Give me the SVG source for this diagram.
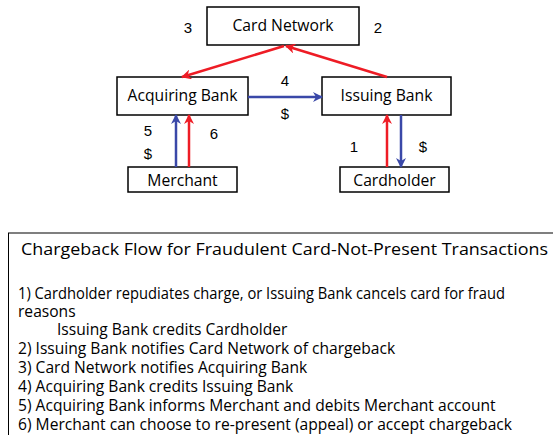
<svg xmlns="http://www.w3.org/2000/svg" width="553" height="435" viewBox="0 0 553 435">
<defs>
<marker id="ar" viewBox="0 0 10 10" refX="9" refY="5" markerWidth="4" markerHeight="4" orient="auto" markerUnits="strokeWidth"><path d="M0,0 L10,5 L0,10 L3,5 Z" fill="#ee1c25"/></marker>
<marker id="ab" viewBox="0 0 10 10" refX="9" refY="5" markerWidth="4" markerHeight="4" orient="auto" markerUnits="strokeWidth"><path d="M0,0 L10,5 L0,10 L3,5 Z" fill="#3a48a8"/></marker>
</defs>
<style>
.box{fill:#fff;stroke:#000;stroke-width:1.5}
.lbl{font-family:"Open Sans",sans-serif;font-size:15.7px;fill:#000;text-anchor:middle}
.num{font-family:"Liberation Sans",Arial,sans-serif;font-size:15px;fill:#000;text-anchor:middle}
.red{stroke:#ee1c25;stroke-width:2.5;fill:none;marker-end:url(#ar)}
.blue{stroke:#3a48a8;stroke-width:2.5;fill:none;marker-end:url(#ab)}
.txt{font-family:"Open Sans",sans-serif;font-size:15.6px;fill:#000}
</style>
<rect width="553" height="435" fill="#fff"/>
<g id="card-network"><rect class="box" x="207" y="7" width="152" height="38"/><text class="lbl" x="283" y="31">Card Network</text></g>
<g id="acquiring-bank"><rect class="box" x="117" y="77" width="131" height="38"/><text class="lbl" x="182.5" y="101">Acquiring Bank</text></g>
<g id="issuing-bank"><rect class="box" x="322" y="77" width="129" height="38"/><text class="lbl" x="386.5" y="101">Issuing Bank</text></g>
<g id="merchant"><rect class="box" x="128" y="167" width="109" height="25"/><text class="lbl" x="182.5" y="185.5">Merchant</text></g>
<g id="cardholder"><rect class="box" x="340" y="167" width="109" height="25"/><text class="lbl" x="394.5" y="185.5">Cardholder</text></g>
<g id="connectors">
<line class="red" x1="284" y1="46" x2="182" y2="77"/>
<line class="red" x1="387" y1="77" x2="286" y2="46"/>
<line class="blue" x1="248" y1="97" x2="322" y2="97"/>
<line class="blue" x1="176" y1="167" x2="176" y2="115"/>
<line class="red" x1="189" y1="167" x2="189" y2="115"/>
<line class="red" x1="387" y1="167" x2="387" y2="115"/>
<line class="blue" x1="401" y1="115" x2="401" y2="167"/>
</g>
<g id="labels">
<text class="num" x="188" y="33">3</text>
<text class="num" x="378" y="33">2</text>
<text class="num" x="285" y="86">4</text>
<text class="num" x="285" y="119">$</text>
<text class="num" x="148" y="136">5</text>
<text class="num" x="148" y="159">$</text>
<text class="num" x="214" y="139">6</text>
<text class="num" x="354" y="152">1</text>
<text class="num" x="423" y="152">$</text>
</g>
<g id="legend">
<rect x="8.5" y="233" width="560" height="220" fill="#fff" stroke="#000" stroke-width="1"/>
<text class="txt" x="21" y="255" font-size="19.5" textLength="527" lengthAdjust="spacingAndGlyphs">Chargeback Flow for Fraudulent Card-Not-Present Transactions</text>
<text class="txt" x="18" y="299" textLength="487" lengthAdjust="spacingAndGlyphs">1) Cardholder repudiates charge, or Issuing Bank cancels card for fraud</text>
<text class="txt" x="18" y="317">reasons</text>
<text class="txt" x="57" y="335">Issuing Bank credits Cardholder</text>
<text class="txt" x="18" y="354">2) Issuing Bank notifies Card Network of chargeback</text>
<text class="txt" x="18" y="373">3) Card Network notifies Acquiring Bank</text>
<text class="txt" x="18" y="392">4) Acquiring Bank credits Issuing Bank</text>
<text class="txt" x="18" y="411">5) Acquiring Bank informs Merchant and debits Merchant account</text>
<text class="txt" x="18" y="430" textLength="494" lengthAdjust="spacingAndGlyphs">6) Merchant can choose to re-present (appeal) or accept chargeback</text>
</g>
</svg>
